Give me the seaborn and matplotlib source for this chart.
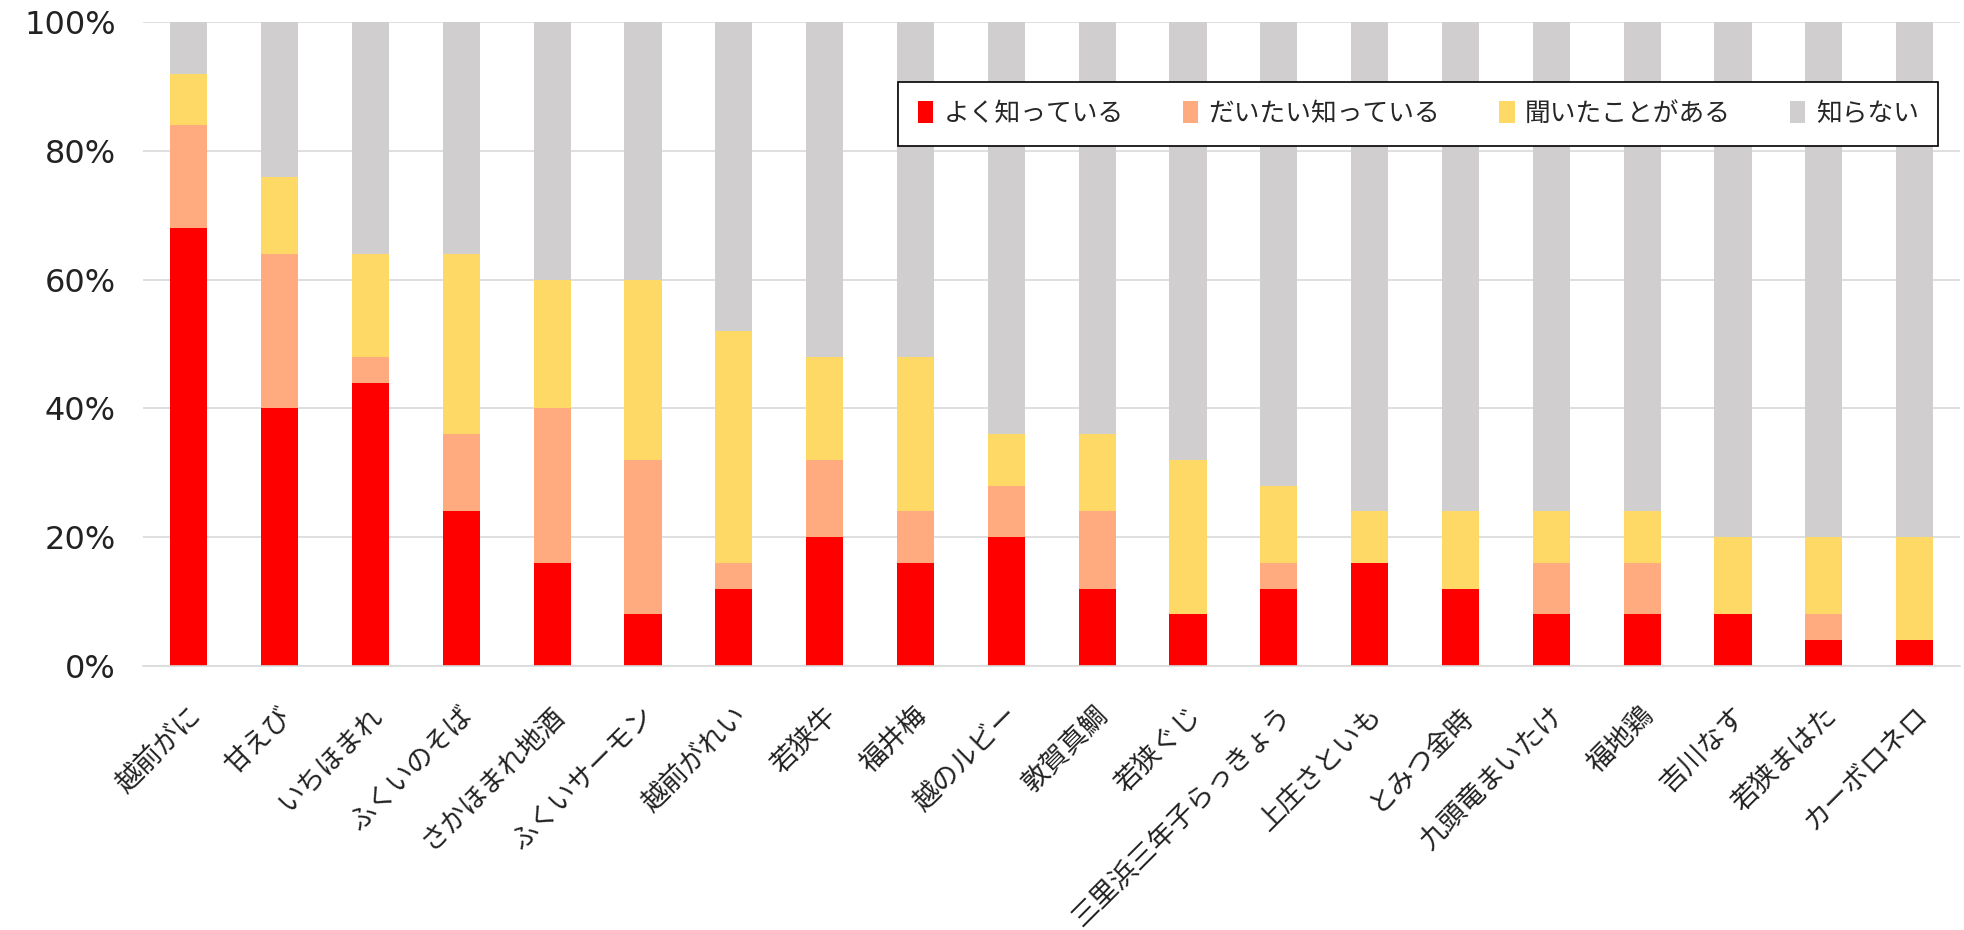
import numpy as np
import pandas as pd
import seaborn as sns
import matplotlib.pyplot as plt
from matplotlib.patches import Patch
from matplotlib.transforms import ScaledTranslation

categories = ['越前がに', '甘えび', 'いちほまれ', 'ふくいのそば', 'さかほまれ地酒', 'ふくいサーモン',
              '越前がれい', '若狭牛', '福井梅', '越のルビー', '敦賀真鯛', '若狭ぐじ',
              '三里浜三年子らっきょう', '上庄さといも', 'とみつ金時', '九頭竜まいたけ', '福地鶏',
              '吉川なす', '若狭まはた', 'カーボロネロ']
know_well = [68, 40, 44, 24, 16, 8, 12, 20, 16, 20, 12, 8, 12, 16, 12, 8, 8, 8, 4, 4]
know_roughly = [16, 24, 4, 12, 24, 24, 4, 12, 8, 8, 12, 0, 4, 0, 0, 8, 8, 0, 4, 0]
heard_of = [8, 12, 16, 28, 20, 28, 36, 16, 24, 8, 12, 24, 12, 8, 12, 8, 8, 12, 12, 16]
dont_know = [8, 24, 36, 36, 40, 40, 48, 52, 52, 64, 64, 68, 72, 76, 76, 76, 76, 80, 80, 80]

series_names = ['よく知っている', 'だいたい知っている', '聞いたことがある', '知らない']
colors = ['#FF0000', '#FFAB7F', '#FFD966', '#D0CECE']

sns.set_style("white")
plt.rcParams['font.family'] = ['Noto Sans CJK JP', 'DejaVu Sans']

df = pd.DataFrame({'item': categories, 's0': know_well, 's1': know_roughly,
                   's2': heard_of, 's3': dont_know})
# cumulative tops, drawn tallest first so shorter ones sit on top
df['c0'] = df['s0']
df['c1'] = df['c0'] + df['s1']
df['c2'] = df['c1'] + df['s2']
df['c3'] = df['c2'] + df['s3']

fig, ax = plt.subplots(figsize=(19.64, 9.3), dpi=100)
fig.subplots_adjust(left=0.073, right=0.998, top=0.976, bottom=0.284)

for col, c in zip(['c3', 'c2', 'c1', 'c0'], colors[::-1]):
    sns.barplot(data=df, x='item', y=col, color=c, width=0.41, ax=ax,
                saturation=1, linewidth=0, zorder=2)

ax.set_ylim(0, 100)
ax.set_yticks(np.arange(0, 101, 20))
ax.set_yticklabels([f'{v}%' for v in range(0, 101, 20)], family='DejaVu Sans',
                   fontsize=23, color='#222222')
ax.yaxis.grid(True, color='#D9D9D9', linewidth=1.2, zorder=0)
ax.set_axisbelow(True)
ax.set_xlabel('')
ax.set_ylabel('')
ax.tick_params(axis='y', length=0, pad=20)
ax.tick_params(axis='x', length=0, pad=14)
ax.set_xticks(range(len(categories)))
ax.set_xticklabels(categories, rotation=45, ha='right', va='center',
                   rotation_mode='anchor', fontsize=19.5, color='#222222')
shift = ScaledTranslation(0.08, -0.26, fig.dpi_scale_trans)
for lab in ax.get_xticklabels():
    lab.set_transform(lab.get_transform() + shift)
for s in ['top', 'right', 'left']:
    ax.spines[s].set_visible(False)
ax.spines['bottom'].set_color('#D9D9D9')
ax.spines['bottom'].set_linewidth(1.2)

handles = [Patch(facecolor=c, edgecolor='none') for c in colors]
leg = ax.legend(handles, series_names, ncol=4, loc='upper left',
                bbox_to_anchor=(0.4156, 0.908), borderaxespad=0, fontsize=18.5,
                frameon=True, fancybox=False, edgecolor='black', framealpha=1,
                handlelength=0.6, handleheight=0.9, handletextpad=0.4,
                columnspacing=2.3, borderpad=0.75)
leg.get_frame().set_linewidth(1.2)

plt.savefig('out.png', dpi=100)
